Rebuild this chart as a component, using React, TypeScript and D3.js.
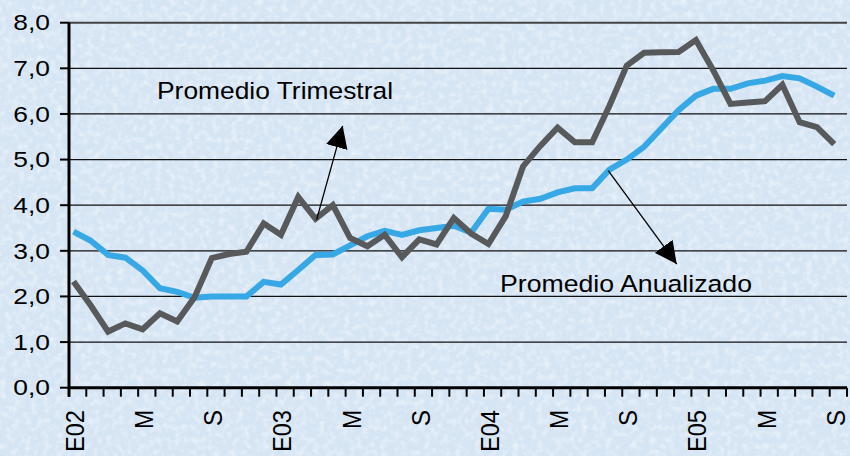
import React from 'react';
import * as d3 from 'd3';

// Monthly categories, Jan 2002 .. Sep 2005
const categories = [
  '2002-01','2002-02','2002-03','2002-04','2002-05','2002-06','2002-07','2002-08','2002-09','2002-10','2002-11','2002-12',
  '2003-01','2003-02','2003-03','2003-04','2003-05','2003-06','2003-07','2003-08','2003-09','2003-10','2003-11','2003-12',
  '2004-01','2004-02','2004-03','2004-04','2004-05','2004-06','2004-07','2004-08','2004-09','2004-10','2004-11','2004-12',
  '2005-01','2005-02','2005-03','2005-04','2005-05','2005-06','2005-07','2005-08','2005-09',
];

const xTickLabels = ['E02', 'M', 'S', 'E03', 'M', 'S', 'E04', 'M', 'S', 'E05', 'M', 'S'];
const xLabelStep = 4;
const yTicks = [0, 1, 2, 3, 4, 5, 6, 7, 8];

const promedioTrimestral = [
  2.33, 1.8, 1.23, 1.41, 1.28, 1.63, 1.45, 1.98, 2.84, 2.93, 2.98, 3.6,
  3.35, 4.18, 3.7, 4.0, 3.28, 3.1, 3.35, 2.86, 3.25, 3.14, 3.72, 3.38,
  3.15, 3.76, 4.85, 5.3, 5.7, 5.38, 5.38, 6.18, 7.06, 7.34, 7.35, 7.36,
  7.62, 6.96, 6.22, 6.25, 6.28, 6.64, 5.82, 5.71, 5.34,
];

const promedioAnualizado = [
  3.42, 3.22, 2.91, 2.85, 2.57, 2.18, 2.1, 1.97, 2.0, 2.0, 2.0, 2.32,
  2.26, 2.58, 2.91, 2.92, 3.12, 3.32, 3.44, 3.35, 3.45, 3.5, 3.55, 3.4,
  3.92, 3.9, 4.08, 4.14, 4.28, 4.37, 4.37, 4.78, 5.0, 5.28, 5.68, 6.08,
  6.4, 6.55, 6.55, 6.67, 6.73, 6.83, 6.78, 6.6, 6.4,
];

// annotations in (category index, value) space
const labelTrimestral = { text: 'Promedio Trimestral', i: 4.83, v: 6.32 };
const labelAnualizado = { text: 'Promedio Anualizado', i: 24.67, v: 2.1 };
const arrowTrimestral = { from: [14.06, 3.68], to: [15.57, 5.74] };
const arrowAnualizado = { from: [30.93, 4.76], to: [34.89, 2.71] };

const W = 850;
const H = 456;
const FONT = "'Liberation Sans', Arial, Helvetica, sans-serif";

export default function App() {
  const left = 69;
  const right = 847;
  const n = categories.length;
  const xs = d3.scaleLinear().domain([0, n]).range([left, right]);
  const pointOffset = 0.26;
  const px = (i: number) => xs(i + pointOffset);
  const y = d3.scaleLinear().domain([0, 8]).range([387.7, 22.7]);

  const line = d3
    .line<number>()
    .x((_, i) => px(i))
    .y((d) => y(d));

  const tickIdx = d3.range(n + 1);

  return (
    <svg
      width={W}
      height={H}
      viewBox={`0 0 ${W} ${H}`}
      style={{ position: 'absolute', left: 0, top: 0, display: 'block' }}
    >
      <defs>
        <filter id="noise" x="0" y="0" width="100%" height="100%">
          <feTurbulence type="fractalNoise" baseFrequency="0.16" numOctaves="2" seed="7" />
          <feColorMatrix
            type="matrix"
            values="0 0 0 0 1  0 0 0 0 1  0 0 0 0 1  0 0 0 1.8 -0.8"
          />
        </filter>
        <marker
          id="arrowhead"
          viewBox="0 0 22 22"
          refX={22}
          refY={11}
          markerWidth={22}
          markerHeight={22}
          markerUnits="userSpaceOnUse"
          orient="auto"
        >
          <path d="M0,0 L22,11 L0,22 Z" fill="#000" />
        </marker>
      </defs>

      <rect x={0} y={0} width={W} height={H} fill="#d6e5f4" />
      <rect x={0} y={0} width={W} height={H} filter="url(#noise)" opacity={0.6} />

      {/* gridlines */}
      {yTicks
        .filter((t) => t > 0)
        .map((t) => (
          <line
            key={`g${t}`}
            x1={left}
            x2={right}
            y1={y(t)}
            y2={y(t)}
            stroke={t === 8 ? '#444' : '#111'}
            strokeWidth={t === 8 ? 2 : 1.2}
          />
        ))}

      {/* y axis */}
      <line x1={left} x2={left} y1={y(8)} y2={y(0) + 9} stroke="#000" strokeWidth={3} />
      {yTicks.map((t) => (
        <g key={`yt${t}`}>
          <line x1={left - 9} x2={left} y1={y(t)} y2={y(t)} stroke="#000" strokeWidth={2} />
          <text
            transform={`translate(50, ${y(t)}) scale(1.2, 1)`}
            dy="0.35em"
            textAnchor="end"
            fontFamily={FONT}
            fontSize={22}
            fill="#000"
          >
            {t.toFixed(1).replace('.', ',')}
          </text>
        </g>
      ))}

      {/* x axis */}
      <line x1={left} x2={right} y1={y(0)} y2={y(0)} stroke="#000" strokeWidth={3} />
      {tickIdx.map((k) => (
        <line
          key={`xt${k}`}
          x1={xs(k)}
          x2={xs(k)}
          y1={y(0)}
          y2={y(0) + 9}
          stroke="#000"
          strokeWidth={2}
        />
      ))}
      {xTickLabels.map((lab, j) => (
        <text
          key={`xl${j}`}
          transform={`translate(${px(j * xLabelStep) + 1.5}, 410) rotate(-90)`}
          textAnchor="end"
          dominantBaseline="central"
          fontFamily={FONT}
          fontSize={26}
          textLength={lab.length === 1 ? (lab === 'M' ? 19 : 16) : 42}
          lengthAdjust="spacingAndGlyphs"
          fill="#000"
        >
          {lab}
        </text>
      ))}

      {/* series */}
      <path
        d={line(promedioAnualizado) || ''}
        fill="none"
        stroke="#36a8e5"
        strokeWidth={6}
        strokeLinejoin="miter"
        strokeMiterlimit={3}
      />
      <path
        d={line(promedioTrimestral) || ''}
        fill="none"
        stroke="#58595a"
        strokeWidth={6}
        strokeLinejoin="miter"
        strokeMiterlimit={3}
      />

      {/* annotations */}
      {[arrowTrimestral, arrowAnualizado].map((a, k) => (
        <line
          key={`ar${k}`}
          x1={px(a.from[0])}
          y1={y(a.from[1])}
          x2={px(a.to[0])}
          y2={y(a.to[1])}
          stroke="#000"
          strokeWidth={1.3}
          markerEnd="url(#arrowhead)"
        />
      ))}
      {[labelTrimestral, labelAnualizado].map((l, k) => (
        <text
          key={`lb${k}`}
          x={px(l.i)}
          y={y(l.v)}
          fontFamily={FONT}
          fontSize={24.5}
          textLength={k === 0 ? 236 : 252}
          lengthAdjust="spacingAndGlyphs"
          fill="#000"
        >
          {l.text}
        </text>
      ))}
    </svg>
  );
}
